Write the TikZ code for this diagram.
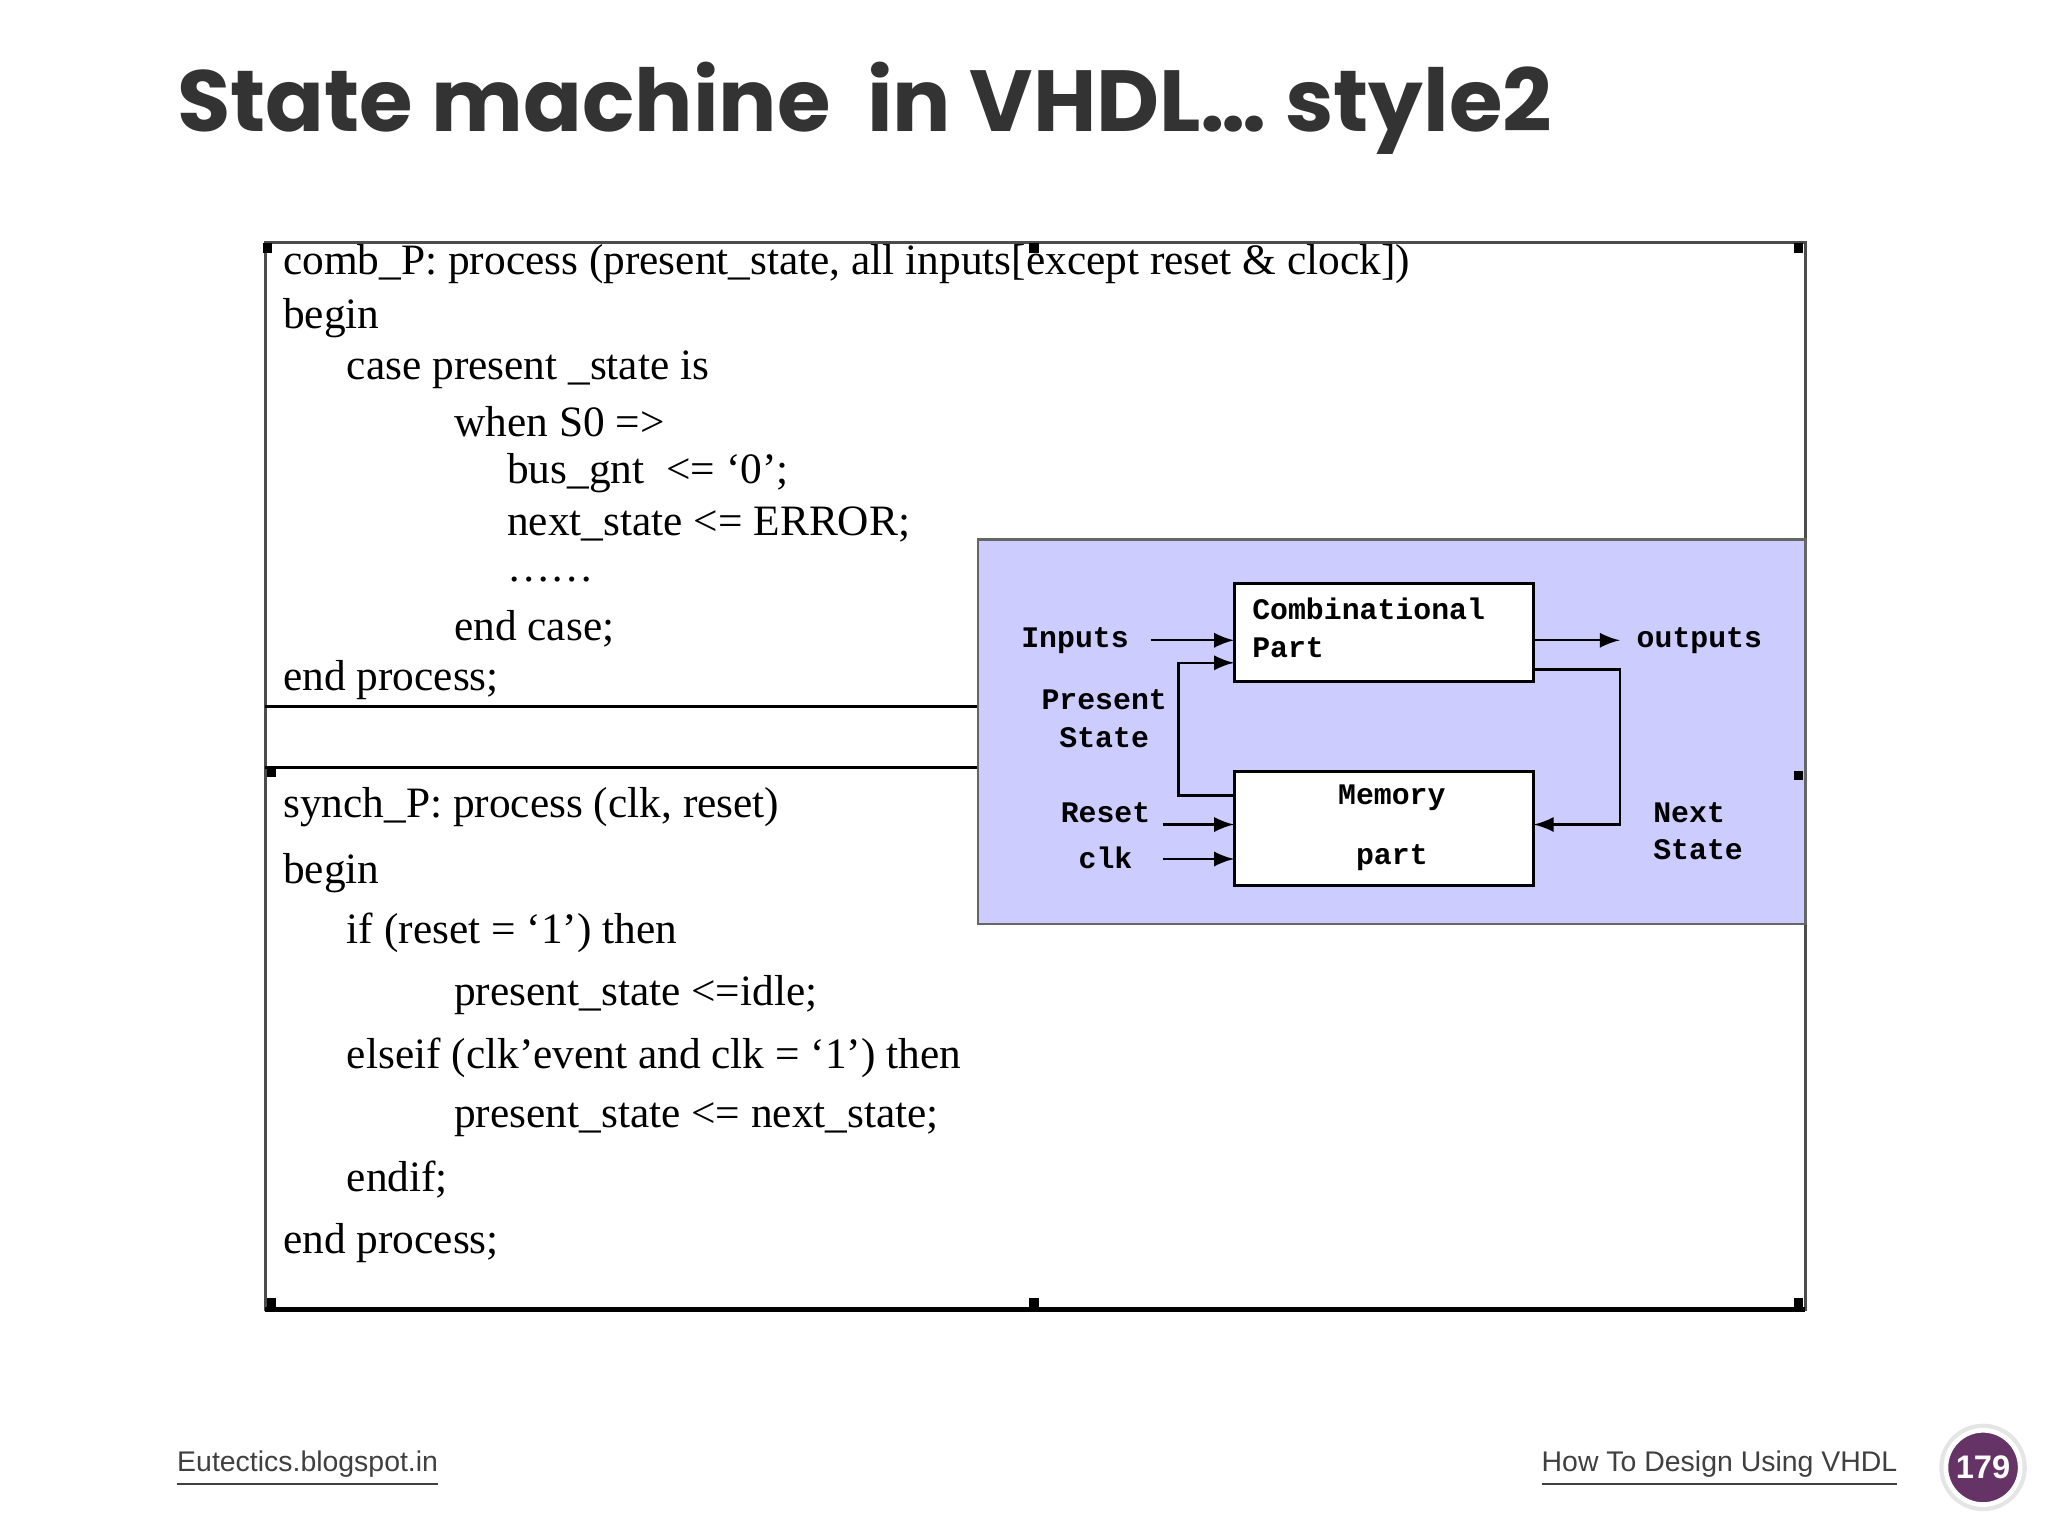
\documentclass[tikz,border=0pt]{standalone}
\usepackage{fontspec}
\setmainfont{Liberation Serif}
\newfontfamily\titlefont{Poppins}
\newfontfamily\codemono{Liberation Mono}
\newfontfamily\footfont{Liberation Sans}
\begin{document}
\begin{tikzpicture}[x=0.01cm,y=-0.01cm,
 code/.style={anchor=west,inner sep=0,font=\fontsize{9.3}{11}\selectfont},
 lab/.style={inner sep=0,font=\fontsize{6.4}{8}\selectfont\codemono\bfseries},
 blk/.style={draw,fill=white,line width=0.6pt},
 handle/.style={fill=black,minimum size=0.07cm,inner sep=0},
 arr/.style={-latex,line width=0.5pt}]
\useasboundingbox (0,0) rectangle (1545,1159);
\node[anchor=west,inner sep=0,font=\fontsize{18.6}{22}\selectfont\titlefont\bfseries,text=black!80] (title) at (133,82) {State machine\ \ in VHDL\ldots\ style2};
\draw[line width=0.6pt,draw=black!70] (200,183) rectangle (1362,988);
\draw[line width=1.2pt] (200,988) -- (1362,988);
\draw[line width=0.5pt] (200,533) -- (738,533) (200,579) -- (738,579);
\draw[fill=blue!20!white,draw=black!60,line width=0.5pt] (738,407) rectangle (1362,697);
\foreach \p/\n in {{(202,187)}/h1,{(780,187)}/h2,{(1357,187)}/h3,{(205,583)}/h4,{(1357,585)}/h5,{(205,983)}/h6,{(780,983)}/h7,{(1357,983)}/h8}
 \node[handle] (\n) at \p {};
% code
\node[code] (c1) at (213,199) {comb\_P: process (present\_state, all inputs[except reset \& clock])};
\node[code] (c2) at (213,240) {begin};
\node[code] (c3) at (261,279) {case present \_state is};
\node[code] (c4) at (342,318) {when S0 =>};
\node[code] (c5) at (382,357) {bus\_gnt\ \ <= `0';};
\node[code] (c6) at (382,396) {next\_state <= ERROR;};
\node[code] (c7) at (382,437) {\ldots\ldots};
\node[code] (c8) at (342,474) {end case;};
\node[code] (c9) at (213,513) {end process;};
\node[code] (d1) at (213,609) {synch\_P: process (clk, reset)};
\node[code] (d2) at (213,659) {begin};
\node[code] (d3) at (261,704) {if (reset = `1') then};
\node[code] (d4) at (342,751) {present\_state <=idle;};
\node[code] (d5) at (261,798) {elseif (clk'event and clk = `1') then};
\node[code] (d6) at (342,845) {present\_state <= next\_state;};
\node[code] (d7) at (261,890) {endif;};
\node[code] (d8) at (213,938) {end process;};
% diagram
\draw[blk] (931,440) rectangle (1157,514);
\node[lab,anchor=west] (comb) at (944,476) {\begin{tabular}{@{}l@{}}Combinational\\Part\end{tabular}};
\draw[blk] (931,582) rectangle (1157,668);
\node[lab] (mem) at (1050,602) {Memory};
\node[lab] (part) at (1050,647) {part};
\node[lab] (inp) at (811,483) {Inputs};
\node[lab] (out) at (1282,483) {outputs};
\node[lab] (ps) at (833,544) {\begin{tabular}{@{}c@{}}Present\\State\end{tabular}};
\node[lab] (rst) at (834,613) {Reset};
\node[lab] (clk) at (834,647) {clk};
\node[lab] (ns) at (1281,629) {\begin{tabular}{@{}l@{}}Next\\State\end{tabular}};
\draw[arr] (868,483) -- (931,483);
\draw[arr] (1157,483) -- (1222,483);
\draw[arr] (931,600) -- (889,600) -- (889,500) -- (931,500);
\draw[arr] (1157,505) -- (1222,505) -- (1222,622) -- (1157,622);
\draw[arr] (877,622) -- (931,622);
\draw[arr] (877,648) -- (931,648);
% footer
\node[anchor=west,inner sep=0,font=\fontsize{6.1}{8}\selectfont\footfont,text=black!75] (fl) at (133,1108) {\underline{Eutectics.blogspot.in}};
\node[anchor=east,inner sep=0,font=\fontsize{6.1}{8}\selectfont\footfont,text=black!75] (fr) at (1432,1108) {\underline{How To Design Using VHDL}};
\node[circle,fill=black!10,minimum size=0.66cm,inner sep=0] (pc) at (1496,1107) {};
\node[circle,fill=violet!50!black!80,draw=white,line width=1pt,minimum size=0.56cm,inner sep=0,text=white,font=\fontsize{7}{8}\selectfont\footfont\bfseries] (pn) at (1496,1107) {179};
\end{tikzpicture}
\end{document}
